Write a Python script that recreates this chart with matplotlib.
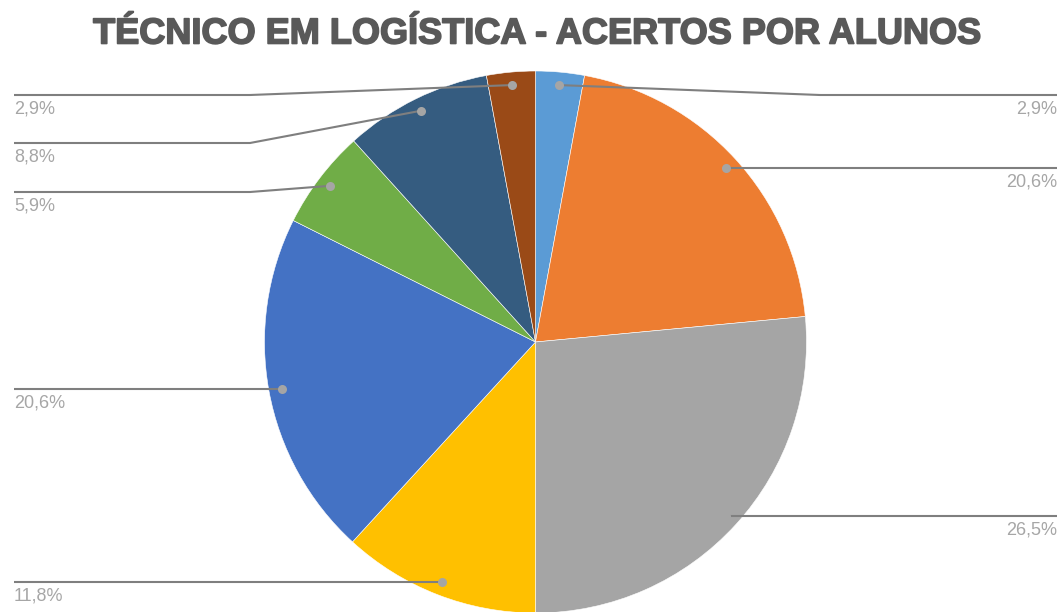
"""Pie chart: Técnico em Logística - acertos por alunos."""

import numpy as np
import matplotlib
matplotlib.use("Agg")
import matplotlib.pyplot as plt
import matplotlib.patheffects as pe

TITLE = "TÉCNICO EM LOGÍSTICA - ACERTOS POR ALUNOS"
SHARES = [2.9, 20.6, 26.5, 11.8, 20.6, 5.9, 8.8, 2.9]
COLORS = ["#5B9BD5", "#ED7D31", "#A5A5A5", "#FFC000",
          "#4472C4", "#70AD47", "#355C80", "#9A4A17"]
# leader lines that bend: wedge index -> (line y from top, elbow x)
BENT = {0: (95, 820), 5: (192, 250), 6: (143, 250), 7: (95, 250)}

W, H = 1062, 612
CX, CY, R = 535.5, H - 342, 271
LEFT_X, RIGHT_X = 14, 1057

fig = plt.figure(figsize=(W / 100, H / 100), dpi=100, facecolor="white")
ax = fig.add_axes([0, 0, 1, 1])

wedges, _ = ax.pie(
    SHARES, colors=COLORS, startangle=90, counterclock=False,
    center=(CX, CY), radius=R,
    wedgeprops=dict(edgecolor="white", linewidth=0.4),
)
ax.set_xlim(0, W)
ax.set_ylim(0, H)
ax.set_aspect("equal")
ax.axis("off")

for i, (w, v) in enumerate(zip(wedges, SHARES)):
    theta = np.deg2rad((w.theta1 + w.theta2) / 2)
    dx, dy = CX + 0.952 * R * np.cos(theta), CY + 0.952 * R * np.sin(theta)
    right = np.cos(theta) > 0
    edge = RIGHT_X if right else LEFT_X
    if i in BENT:
        ly = H - BENT[i][0]
        xs, ys = [dx, BENT[i][1], edge], [dy, ly, ly]
    else:
        ly = dy
        xs, ys = [dx, edge], [dy, dy]
    ax.plot(xs, ys, color="#7F7F7F", linewidth=1.5, zorder=3,
            solid_capstyle="butt")
    ax.plot(dx, dy, "o", color="#A5A5A5", markersize=6.5,
            markeredgewidth=0, zorder=4)
    label = f"{v:.1f}".replace(".", ",") + "%"
    ax.text(edge, ly - 14, label, ha="right" if right else "left",
            va="center", fontsize=13, color="#A6A6A6",
            family="Liberation Sans")

fig.text(536.5 / W, 1 - 34 / H, TITLE, ha="center", va="center",
         fontsize=26, fontweight="bold", color="#595959",
         family="Liberation Sans",
         path_effects=[pe.withStroke(linewidth=1.2, foreground="#595959")])

fig.savefig("out.png", dpi=100, facecolor="white")
